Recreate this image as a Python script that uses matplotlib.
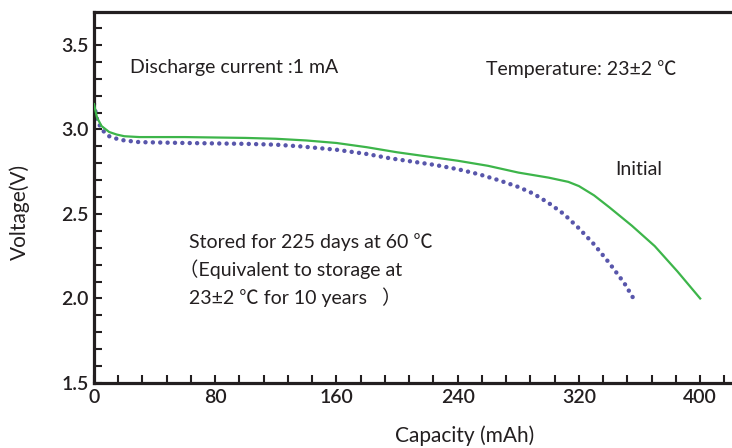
import matplotlib.pyplot as plt
from matplotlib.ticker import MultipleLocator

plt.rcParams['font.family'] = ['Lato', 'Noto Sans CJK SC', 'DejaVu Sans']

# initial discharge curve (green)
cap_init = [0, 2, 5, 10, 15, 20, 30, 60, 100, 120, 140, 160, 180, 200, 220, 240,
            260, 280, 300, 313, 320, 330, 340, 355, 370, 385, 400]
volt_init = [3.15, 3.07, 3.02, 2.985, 2.97, 2.96, 2.955, 2.955, 2.95, 2.945, 2.935,
             2.92, 2.895, 2.865, 2.84, 2.815, 2.785, 2.745, 2.715, 2.69, 2.665,
             2.61, 2.54, 2.43, 2.31, 2.16, 2.0]

# after storage 225 days at 60C (blue dots)
cap_stored = [0, 2, 5, 10, 15, 20, 30, 60, 100, 120, 136, 160, 180, 195, 210, 225,
              240, 254, 267, 280, 290, 300, 310, 320, 330, 340, 350, 356]
volt_stored = [3.15, 3.06, 3.0, 2.96, 2.945, 2.935, 2.925, 2.92, 2.915, 2.91, 2.9,
               2.88, 2.855, 2.83, 2.81, 2.79, 2.765, 2.735, 2.70, 2.66, 2.62, 2.565,
               2.50, 2.415, 2.32, 2.21, 2.09, 2.0]

x_ticks = [0, 80, 160, 240, 320, 400]
y_ticks = [1.5, 2.0, 2.5, 3.0, 3.5]

txt = '#231f20'

fig = plt.figure(figsize=(7.32, 4.48), dpi=100)
ax = fig.add_axes([94 / 732, 1 - 383 / 448, 1 - 94 / 732, (383 - 12) / 448])

ax.plot(cap_init, volt_init, color='#3db54a', lw=1.6, zorder=3)
ax.plot(cap_stored, volt_stored, color='#5856ab', lw=3.2,
        linestyle=(0, (0.01, 1.65)), dash_capstyle='round', zorder=2)

ax.set_xlim(0, 421)
ax.set_ylim(1.5, 3.695)
ax.set_xticks(x_ticks)
ax.set_yticks(y_ticks)
ax.xaxis.set_minor_locator(MultipleLocator(16))
ax.yaxis.set_minor_locator(MultipleLocator(0.1))
ax.tick_params(which='both', direction='in', length=6, width=1.5, colors='#231f20')
ax.tick_params(which='major', labelsize=14, pad=4)
for lab in ax.get_xticklabels() + ax.get_yticklabels():
    lab.set_fontweight('semibold')
    lab.set_color(txt)

for s in ['left', 'bottom', 'top']:
    ax.spines[s].set_linewidth(2.3)
    ax.spines[s].set_color('#231f20')
ax.spines['right'].set_visible(False)

ax.set_xlabel('Capacity (mAh)', fontsize=15, color=txt)
ax.set_ylabel('Voltage(V)', fontsize=15, color=txt)
ax.xaxis.label.set_va('center')
ax.yaxis.label.set_va('center')
ax.xaxis.set_label_coords(0.581, -0.143)
ax.yaxis.set_label_coords(-0.116, 0.461)

ax.text(24, 3.367, 'Discharge current :1 mA', fontsize=14, color=txt, va='center')
ax.text(259, 3.355, 'Temperature: 23±2 ℃', fontsize=14, color=txt, va='center')
ax.text(344, 2.763, 'Initial', fontsize=14, color=txt, va='center')
ax.text(63, 2.337, 'Stored for 225 days at 60 ℃', fontsize=14, color=txt, va='center')
ax.text(56, 2.172, '（Equivalent to storage at', fontsize=14, color=txt, va='center')
ax.text(63, 2.006, '23±2 ℃ for 10 years   ）', fontsize=14, color=txt, va='center')

fig.savefig('out.png', dpi=100)
